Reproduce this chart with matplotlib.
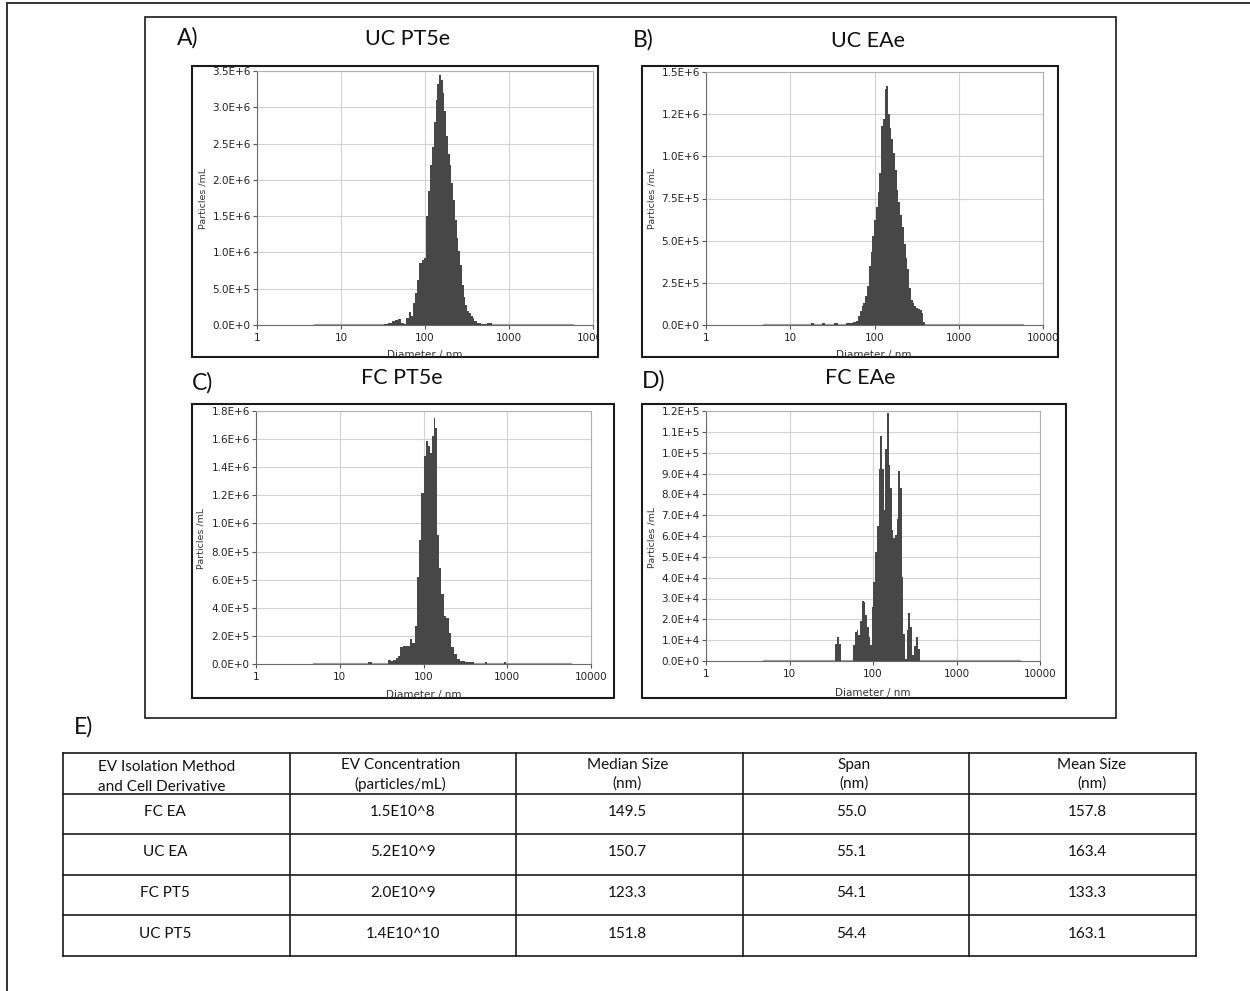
import math
import numpy as np
import matplotlib
matplotlib.use("Agg")
import matplotlib.pyplot as plt
from matplotlib.patches import Rectangle
from matplotlib.lines import Line2D
from matplotlib.transforms import Bbox
from matplotlib.ticker import FuncFormatter

W, H = 1250, 991
DPI = 100

# ---------------- data ----------------
# Panel A: UC PT5e  (values in 1e6 particles/mL)
A_diam = [34, 38, 42, 46, 50, 54, 58, 62, 66, 70, 74, 78, 83, 88, 94, 100, 106, 112, 118, 124,
          130, 137, 144, 151, 158, 166, 174, 183, 192, 201, 211, 221, 232, 244, 256, 269, 282,
          296, 311, 327, 343, 360, 378, 397, 440, 500, 590, 650]
A_vals = [0.01, 0.03, 0.05, 0.07, 0.08, 0.03, 0.02, 0.10, 0.18, 0.13, 0.30, 0.44, 0.62, 0.85,
          0.89, 0.93, 1.50, 1.85, 2.20, 2.45, 2.80, 3.10, 3.32, 3.45, 3.38, 3.20, 2.95, 2.60,
          2.35, 2.20, 1.95, 1.72, 1.45, 1.20, 1.02, 0.82, 0.55, 0.38, 0.28, 0.19, 0.16, 0.12,
          0.09, 0.05, 0.03, 0.02, 0.03, 0.0]
A_unit = 1e6

# Panel B: UC EAe (1e6)
B_diam = [17, 18.5, 20, 23, 25, 27, 32, 35, 38, 54, 58, 62, 66, 69, 72, 76, 80, 84, 88, 92,
          97, 102, 107, 112, 117, 123, 129, 135, 141, 148, 155, 163, 171, 179, 188, 197, 207,
          217, 228, 239, 251, 264, 277, 291, 305, 320, 336, 353, 370, 388, 405]
B_vals = [0, 0.012, 0, 0, 0.012, 0, 0, 0.012, 0, 0.01, 0.02, 0.025, 0.055, 0.085, 0.11, 0.13,
          0.17, 0.23, 0.35, 0.43, 0.53, 0.62, 0.70, 0.79, 0.90, 1.18, 1.22, 1.40, 1.415, 1.25,
          1.17, 1.10, 1.02, 0.92, 0.80, 0.73, 0.65, 0.58, 0.48, 0.40, 0.33, 0.22, 0.15, 0.13,
          0.11, 0.10, 0.095, 0.09, 0.07, 0.02, 0]
B_unit = 1e6

# Panel C: FC PT5e (1e6)
C_diam = [21, 23, 25, 36, 39, 42, 45, 48, 51, 55, 60, 66, 71, 76, 81, 86, 91, 97, 104, 110,
          117, 124, 130, 136, 142, 148, 158, 170, 182, 194, 209, 222, 240, 263, 288, 331, 380,
          420, 520, 560, 600, 900, 950, 1000]
C_vals = [0, 0.015, 0, 0, 0.025, 0.02, 0.03, 0.04, 0.06, 0.12, 0.125, 0.13, 0.18, 0.15, 0.27,
          0.62, 0.88, 1.22, 1.48, 1.59, 1.55, 1.50, 1.62, 1.75, 1.68, 0.92, 0.68, 0.50, 0.34,
          0.33, 0.22, 0.12, 0.07, 0.035, 0.02, 0.015, 0.015, 0, 0, 0.015, 0, 0, 0.015, 0]
C_unit = 1e6

# Panel D: FC EAe (1e4)
D_diam = [34, 36, 38, 40, 42, 56, 59, 62, 65, 68, 72, 75, 79, 82, 86, 91, 94, 99, 103, 108,
          114, 119, 126, 131, 137, 144, 150, 157, 164, 172, 180, 188, 197, 206, 216, 226, 236,
          247, 259, 271, 283, 297, 321, 339, 355, 375]
D_vals = [0, 0.8, 1.15, 0.8, 0, 0, 0.75, 1.4, 1.5, 1.25, 1.9, 2.9, 2.85, 2.2, 1.65, 1.15, 0.75,
          2.6, 3.8, 5.25, 6.5, 9.2, 10.8, 9.2, 7.25, 10.2, 11.9, 9.4, 8.3, 6.3, 5.9, 6.05, 6.8,
          9.1, 8.3, 4.05, 1.3, 0.1, 1.5, 2.3, 1.65, 0.3, 0.7, 1.15, 0.6, 0]
D_unit = 1e4

measured_range = [4.8, 6000]     # nm, zero-count baseline of the instrument
x_ticks = [1, 10, 100, 1000, 10000]
A_yticks = [0, 5e5, 1e6, 1.5e6, 2e6, 2.5e6, 3e6, 3.5e6]
B_yticks = [0, 2.5e5, 5e5, 7.5e5, 1e6, 1.25e6, 1.5e6]
C_yticks = [0, 2e5, 4e5, 6e5, 8e5, 1e6, 1.2e6, 1.4e6, 1.6e6, 1.8e6]
D_yticks = [0, 1e4, 2e4, 3e4, 4e4, 5e4, 6e4, 7e4, 8e4, 9e4, 1e5, 1.1e5, 1.2e5]

panel_titles = ["UC PT5e", "UC EAe", "FC PT5e", "FC EAe"]
panel_letters = ["A)", "B)", "C)", "D)"]
x_label = "Diameter / nm"
y_label = "Particles /mL"

table_header = ["EV Isolation Method\nand Cell Derivative", "EV Concentration\n(particles/mL)",
                "Median Size\n(nm)", "Span\n(nm)", "Mean Size\n(nm)"]
table_method = ["FC EA", "UC EA", "FC PT5", "UC PT5"]
table_conc = ["1.5E10^8", "5.2E10^9", "2.0E10^9", "1.4E10^10"]
table_median = [149.5, 150.7, 123.3, 151.8]
table_span = [55.0, 55.1, 54.1, 54.4]
table_mean = [157.8, 163.4, 133.3, 163.1]

# ---------------- layout (pixels) ----------------
panels = [
    dict(d=A_diam, v=A_vals, u=A_unit, yt=A_yticks,
         frame=(192, 66, 598, 357), ax=(257, 71, 593, 325), ylab=(203, 198),
         xlab=(425, 355), letter=(177, 38), title=(408, 39)),
    dict(d=B_diam, v=B_vals, u=B_unit, yt=B_yticks,
         frame=(642, 66, 1058, 357), ax=(706, 72, 1043, 325), ylab=(652, 198),
         xlab=(874, 355), letter=(633, 40), title=(868, 41)),
    dict(d=C_diam, v=C_vals, u=C_unit, yt=C_yticks,
         frame=(192, 404, 614, 698), ax=(256, 411, 591, 664), ylab=(201, 538),
         xlab=(424, 695), letter=(192, 383), title=(402, 378)),
    dict(d=D_diam, v=D_vals, u=D_unit, yt=D_yticks,
         frame=(642, 404, 1066, 698), ax=(706, 411, 1040, 661), ylab=(652, 537),
         xlab=(873, 693), letter=(642, 381), title=(860, 378)),
]

TITLE_FONT = "Lato"
TICK_FONT = "DejaVu Sans"

fig = plt.figure(figsize=(W / DPI, H / DPI), dpi=DPI)
fig.patch.set_facecolor("white")


def fx(x):
    return x / W


def fy(y):
    return 1 - y / H


def add_rect(x0, y0, x1, y1, lw=1.4, color="#1a1a1a"):
    fig.add_artist(Rectangle((fx(x0), fy(y1)), (x1 - x0) / W, (y1 - y0) / H,
                             transform=fig.transFigure, fill=False, lw=lw, ec=color))


def edges_from_centers(c):
    c = np.asarray(c, dtype=float)
    mid = np.sqrt(c[:-1] * c[1:])
    return np.concatenate([[c[0] ** 2 / mid[0]], mid, [c[-1] ** 2 / mid[-1]]])


def sci_fmt(v, pos=None):
    if v == 0:
        return "0.0E+0"
    e = int(math.floor(math.log10(v) + 1e-9))
    m = v / 10 ** e
    return f"{m:.1f}E+{e}"


# outer partial border and the inner box
fig.add_artist(Line2D([fx(7), 1], [fy(3), fy(3)], transform=fig.transFigure, color="#333333", lw=1.4))
fig.add_artist(Line2D([fx(7), fx(7)], [fy(3), 0], transform=fig.transFigure, color="#333333", lw=1.4))
add_rect(145, 17, 1116, 718, lw=1.2)

for p in panels:
    x0, y0, x1, y1 = p["ax"]
    ax = fig.add_axes([fx(x0), fy(y1), (x1 - x0) / W, (y1 - y0) / H])
    ax.set_xscale("log")
    ax.set_xlim(x_ticks[0], x_ticks[-1])
    ax.set_ylim(0, p["yt"][-1])
    vals = np.asarray(p["v"]) * p["u"]
    edges = edges_from_centers(p["d"])
    ax.plot(measured_range, [0, 0], color="#a0a0a0", lw=1.6, zorder=2, solid_capstyle="butt")
    ax.stairs(vals, edges, fill=True, color="#474747", lw=0, zorder=3)
    ax.set_xticks(x_ticks)
    ax.set_xticklabels([str(t) for t in x_ticks])
    ax.minorticks_off()
    ax.set_yticks(p["yt"])
    ax.yaxis.set_major_formatter(FuncFormatter(sci_fmt))
    ax.grid(True, color="#d2d2d2", lw=0.8, zorder=0)
    ax.set_axisbelow(True)
    for s in ("top", "right"):
        ax.spines[s].set_color("#b0b0b0")
        ax.spines[s].set_linewidth(0.8)
    for s in ("left", "bottom"):
        ax.spines[s].set_color("#6a6a6a")
        ax.spines[s].set_linewidth(0.8)
    ax.tick_params(axis="both", which="major", length=3, width=0.8, color="#555555",
                   labelsize=7.5, labelcolor="#222222", pad=1.5)
    ax.tick_params(axis="x", pad=2.5)
    for lab in ax.get_xticklabels() + ax.get_yticklabels():
        lab.set_fontfamily(TICK_FONT)

    fx0, fy0, fx1, fy1 = p["frame"]
    clip = Bbox.from_extents(fx0, H - fy1, fx1, H - fy0)
    for t in ax.xaxis.get_major_ticks():
        t.label1.set_clip_box(clip)
        t.label1.set_clip_on(True)

    add_rect(*p["frame"], lw=1.5)

    lx, ly = p["ylab"]
    fig.text(fx(lx), fy(ly), y_label, rotation=90, ha="center", va="center",
             fontsize=6.8, color="#333333", family=TICK_FONT)
    xx, xy = p["xlab"]
    t = fig.text(fx(xx), fy(xy), x_label, ha="center", va="center",
                 fontsize=7.5, color="#333333", family=TICK_FONT)
    t.set_clip_box(clip)
    t.set_clip_on(True)

for p, letter, title in zip(panels, panel_letters, panel_titles):
    fig.text(fx(p["letter"][0]), fy(p["letter"][1]), letter, ha="left", va="center",
             fontsize=16.5, family=TITLE_FONT, color="#111111")
    fig.text(fx(p["title"][0]), fy(p["title"][1]), title, ha="center", va="center",
             fontsize=15.5, family=TITLE_FONT, color="#111111")

fig.text(fx(74), fy(727), "E)", ha="left", va="center", fontsize=16.5,
         family=TITLE_FONT, color="#111111")

# ---------------- table ----------------
tx0, ty0, tx1, ty1 = 63, 753, 1196, 956
tax = fig.add_axes([fx(tx0), fy(ty1), (tx1 - tx0) / W, (ty1 - ty0) / H])
ncol = len(table_header)
nrow = len(table_method) + 1
tax.set_xlim(0, ncol)
tax.set_ylim(nrow, 0)
tax.axis("off")
for i in range(ncol + 1):
    tax.plot([i, i], [0, nrow], color="#1a1a1a", lw=1.2, clip_on=False)
for j in range(nrow + 1):
    tax.plot([0, ncol], [j, j], color="#1a1a1a", lw=1.2, clip_on=False)

row_h_px = (ty1 - ty0) / nrow
col_w_px = (tx1 - tx0) / ncol
TFS = 11
# header
hdr_lines = [h.split("\n") for h in table_header]
tax.text(35 / col_w_px, 14 / row_h_px, hdr_lines[0][0], ha="left", va="center",
         fontsize=TFS, family=TITLE_FONT, color="#111111")
tax.text(35 / col_w_px, 34 / row_h_px, hdr_lines[0][1], ha="left", va="center",
         fontsize=TFS, family=TITLE_FONT, color="#111111")
for c in range(1, ncol):
    cx = c + 0.5 + (0.04 if c == ncol - 1 else -0.01)
    tax.text(cx, 12 / row_h_px, hdr_lines[c][0], ha="center", va="center",
             fontsize=TFS, family=TITLE_FONT, color="#111111")
    tax.text(cx, 31 / row_h_px, hdr_lines[c][1], ha="center", va="center",
             fontsize=TFS, family=TITLE_FONT, color="#111111")

cols = [table_method, table_conc,
        [f"{v:.1f}" for v in table_median],
        [f"{v:.1f}" for v in table_span],
        [f"{v:.1f}" for v in table_mean]]
col_centers = [0.45, 1.5, 2.49, 3.48, 4.52]
for c, values in enumerate(cols):
    for r, val in enumerate(values):
        tax.text(col_centers[c], r + 1 + 0.45, val, ha="center", va="center",
                 fontsize=TFS, family=TITLE_FONT, color="#111111")

fig.savefig("out.png", dpi=DPI, facecolor="white")
